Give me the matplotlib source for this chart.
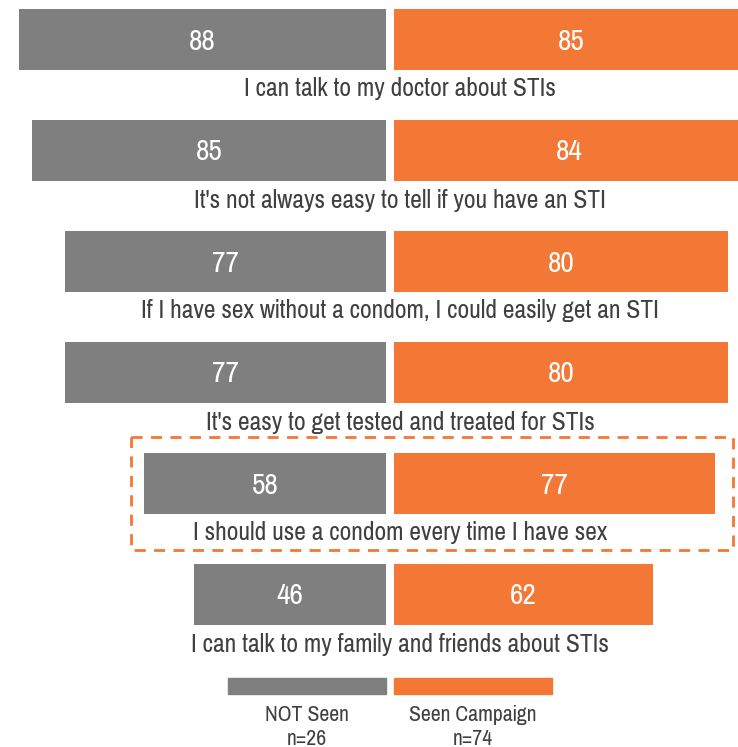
import matplotlib
matplotlib.use("Agg")
import matplotlib.pyplot as plt
from matplotlib.patches import Rectangle
from matplotlib import font_manager

names = {f.name for f in font_manager.fontManager.ttflist}
FONT = next((f for f in ("Pragati Narrow", "Roboto Condensed", "Archivo Narrow") if f in names), "DejaVu Sans")
plt.rcParams['font.family'] = [FONT, 'DejaVu Sans']

statements = [
    "I can talk to my doctor about STIs",
    "It's not always easy to tell if you have an STI",
    "If I have sex without a condom, I could easily get an STI",
    "It's easy to get tested and treated for STIs",
    "I should use a condom every time I have sex",
    "I can talk to my family and friends about STIs",
]
not_seen = [88, 85, 77, 77, 58, 46]
seen = [85, 84, 80, 80, 77, 62]
series_labels = ["NOT Seen\nn=26", "Seen Campaign\nn=74"]
highlight = 4

GRAY = "#7F7F7F"
ORANGE = "#F37735"
TEXT = "#404040"

W, H = 738, 747
fig = plt.figure(figsize=(W / 100, H / 100), dpi=100)
ax = fig.add_axes([0, 0, 1, 1])
scale = 4.17
cx = 390
gap = 4 / scale
ax.set_xlim(-cx / scale, (W - cx) / scale)
ax.set_ylim(H, 0)
ax.axis("off")

row0, step, bh = 39.5, 111, 61
ys = [row0 + step * i for i in range(len(statements))]

ax.barh(ys, [-v for v in not_seen], left=-gap, height=bh, color=GRAY)
ax.barh(ys, seen, left=gap, height=bh, color=ORANGE)

for y, a, b, s in zip(ys, not_seen, seen, statements):
    ax.text(-gap - a / 2, y + 2, str(a), ha="center", va="center", color="white", fontsize=23)
    ax.text(gap + b / 2, y + 2, str(b), ha="center", va="center", color="white", fontsize=23)
    ax.text(10 / scale, y + bh / 2 + 19, s, ha="center", va="center", color=TEXT, fontsize=20)

yh = ys[highlight]
ax.add_patch(Rectangle((131 / scale - cx / scale, yh - 47), (733 - 131) / scale, 113,
                       fill=False, edgecolor=ORANGE, linestyle=(0, (4, 3)), linewidth=2, zorder=5))

lw = 158 / scale
ax.add_patch(Rectangle((-gap - lw, 678), lw, 16, color=GRAY))
ax.add_patch(Rectangle((gap, 678), lw, 16, color=ORANGE))
ax.text(-gap - lw / 2, 727, series_labels[0], ha="center", va="center", color=TEXT, fontsize=17, linespacing=1.2)
ax.text(gap + lw / 2, 727, series_labels[1], ha="center", va="center", color=TEXT, fontsize=17, linespacing=1.2)

fig.savefig("out.png", dpi=100)
